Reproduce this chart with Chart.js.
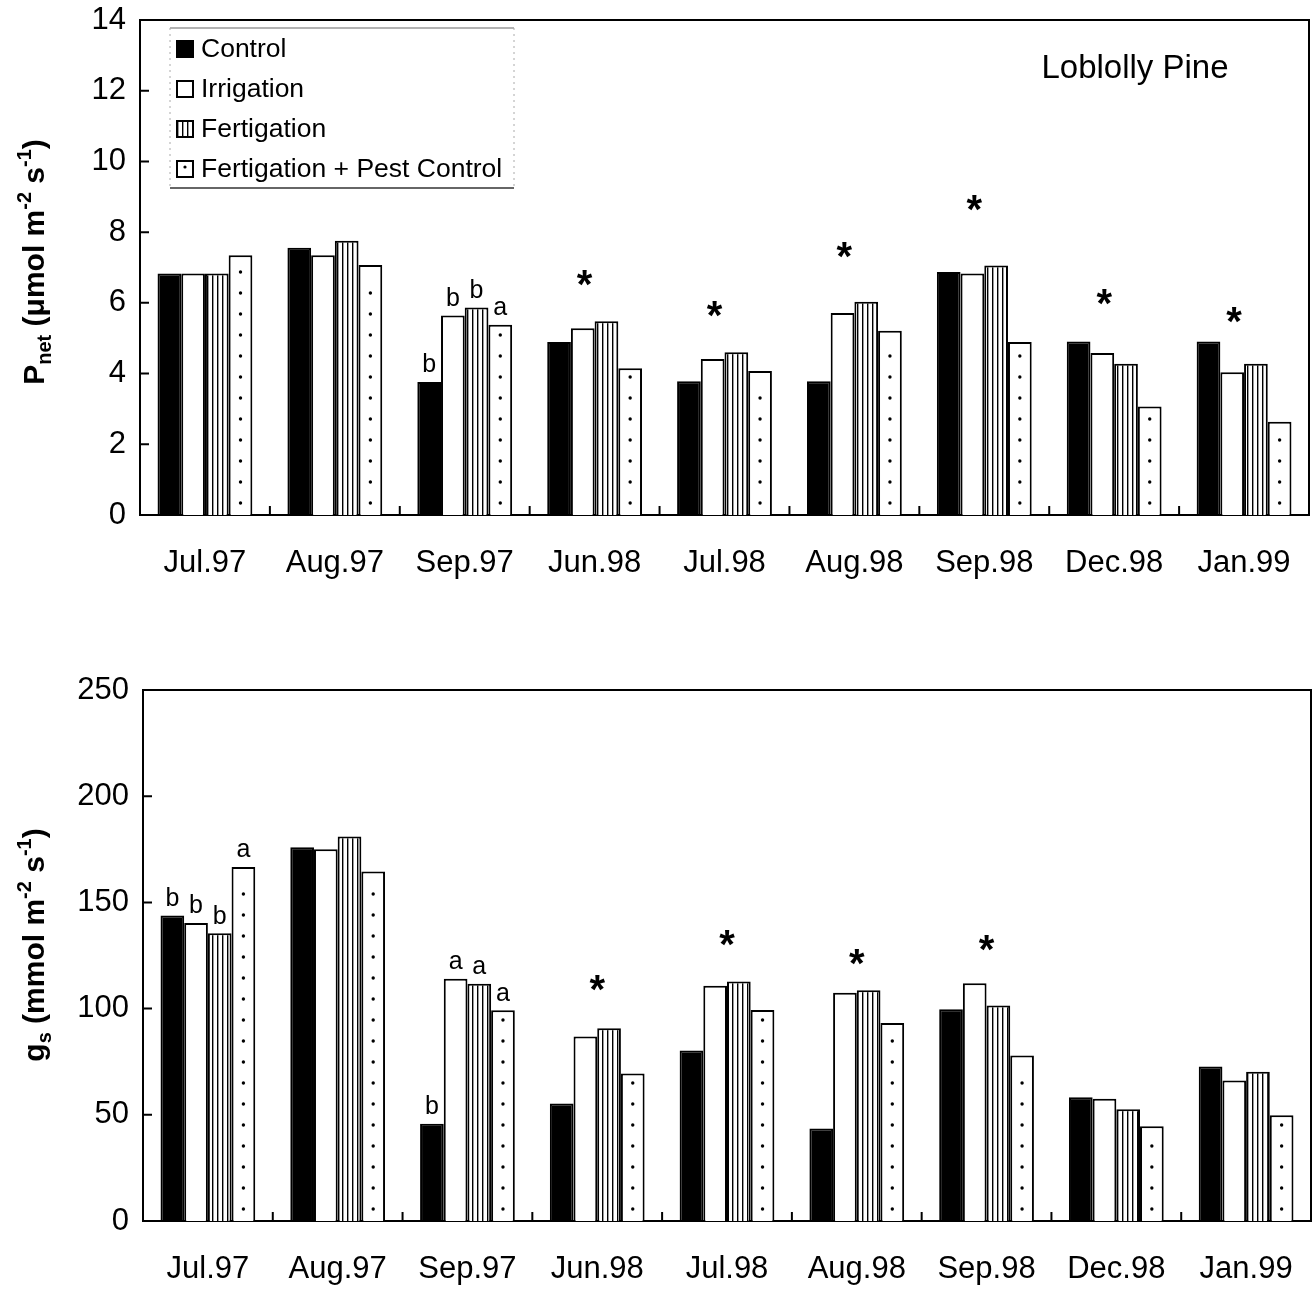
<!DOCTYPE html>
<html>
<head>
<meta charset="utf-8">
<script src="https://cdn.jsdelivr.net/npm/chart.js@4.4.0/dist/chart.umd.min.js"></script>
<style>
  html, body { margin: 0; padding: 0; background: #fff; }
  #wrap { position: relative; width: 1313px; height: 1290px; }
  #pnetChart { position: absolute; left: 0; top: 0; }
  #gsChart { position: absolute; left: 0; top: 620px; }
</style>
</head>
<body>
<div id="wrap">
  <canvas id="pnetChart" width="1313" height="620"></canvas>
  <canvas id="gsChart" width="1313" height="670"></canvas>
</div>
<script>
// ---- data ----
const months = ['Jul.97', 'Aug.97', 'Sep.97', 'Jun.98', 'Jul.98', 'Aug.98', 'Sep.98', 'Dec.98', 'Jan.99'];
const treatments = ['Control', 'Irrigation', 'Fertigation', 'Fertigation + Pest Control'];

// net photosynthesis (umol m-2 s-1)
const pnetControl     = [6.83, 7.56, 3.76, 4.89, 3.78, 3.78, 6.87, 4.91, 4.91];
const pnetIrrigation  = [6.83, 7.35, 5.64, 5.28, 4.41, 5.71, 6.83, 4.58, 4.04];
const pnetFertigation = [6.83, 7.76, 5.87, 5.48, 4.60, 6.03, 7.06, 4.28, 4.28];
const pnetFertPest    = [7.35, 7.07, 5.38, 4.15, 4.07, 5.21, 4.89, 3.07, 2.64];
const pnetStars       = [null, null, null, 6.76, 5.87, 7.56, 8.89, 6.22, 5.71];
const pnetLetters = [
  [null, null, 'b', null, null, null, null, null, null],
  [null, null, 'b', null, null, null, null, null, null],
  [null, null, 'b', null, null, null, null, null, null],
  [null, null, 'a', null, null, null, null, null, null]
];

// stomatal conductance (mmol m-2 s-1)
const gsControl     = [143.8, 176, 45.8, 55.3, 80.3, 43.6, 99.7, 58.3, 72.7];
const gsIrrigation  = [140.3, 175, 114, 86.9, 110.7, 107.5, 111.9, 57.6, 66.2];
const gsFertigation = [135.5, 181, 111.7, 90.8, 112.8, 108.6, 101.5, 52.6, 70.3];
const gsFertPest    = [166.7, 164.6, 99.2, 69.5, 99.3, 93.2, 77.9, 44.6, 49.8];
const gsStars       = [null, null, null, 113, 134, 125.3, 131.8, null, null];
const gsLetters = [
  ['b', null, 'b', null, null, null, null, null, null],
  ['b', null, 'a', null, null, null, null, null, null],
  ['b', null, 'a', null, null, null, null, null, null],
  ['a', null, 'a', null, null, null, null, null, null]
];

// ---- styling ----
const FONT = '"Liberation Sans", Arial, sans-serif';

function makeStripes() {
  const c = document.createElement('canvas');
  c.width = 5; c.height = 8;
  const g = c.getContext('2d');
  g.fillStyle = '#fff';
  g.fillRect(0, 0, 5, 8);
  g.fillStyle = '#000';
  g.fillRect(2, 0, 1.4, 8);
  return g.createPattern(c, 'repeat');
}
const stripes = makeStripes();

function makeDatasets(values) {
  const fills = ['#000', '#fff', stripes, '#fff'];
  return values.map((v, i) => ({
    label: treatments[i], data: v,
    backgroundColor: fills[i], borderColor: '#000', borderWidth: 2,
    categoryPercentage: 0.73, barPercentage: 1.0
  }));
}

function drawRichTitle(ctx, parts, x, cy, size) {
  ctx.save();
  ctx.translate(x, cy);
  ctx.rotate(-Math.PI / 2);
  ctx.textAlign = 'left';
  ctx.textBaseline = 'alphabetic';
  const fontOf = p => 'bold ' + (p.s === 'n' ? size : Math.round(size * 0.68)) + 'px ' + FONT;
  let total = 0;
  parts.forEach(p => { ctx.font = fontOf(p); total += ctx.measureText(p.t).width; });
  let cx = -total / 2;
  ctx.fillStyle = '#000';
  parts.forEach(p => {
    ctx.font = fontOf(p);
    const dy = p.s === 'sub' ? size * 0.22 : p.s === 'sup' ? -size * 0.42 : 0;
    ctx.fillText(p.t, cx, dy);
    cx += ctx.measureText(p.t).width;
  });
  ctx.restore();
}

const decorPlugin = {
  id: 'decor',
  afterDraw(chart, args, o) {
    const { ctx, chartArea: a } = chart;
    const xs = chart.scales.x, ys = chart.scales.y;
    ctx.save();
    // frame top + right
    ctx.strokeStyle = '#000';
    ctx.lineWidth = 2;
    ctx.beginPath();
    ctx.moveTo(a.left, a.top); ctx.lineTo(a.right, a.top); ctx.lineTo(a.right, a.bottom);
    ctx.stroke();
    // inner ticks
    ctx.beginPath();
    ys.ticks.forEach(t => {
      if (t.value <= ys.min || t.value >= ys.max) return;
      const y = ys.getPixelForValue(t.value);
      ctx.moveTo(a.left, y); ctx.lineTo(a.left + 9, y);
    });
    for (let i = 1; i < months.length; i++) {
      const x = (xs.getPixelForValue(i - 1) + xs.getPixelForValue(i)) / 2;
      ctx.moveTo(x, a.bottom); ctx.lineTo(x, a.bottom - 9);
    }
    ctx.stroke();

    // dots in the fertigation + pest control bars
    ctx.fillStyle = '#000';
    chart.getDatasetMeta(3).data.forEach(el => {
      for (let y = el.base - 12; y > el.y + 8; y -= 21) {
        ctx.beginPath(); ctx.arc(el.x, y, 1.7, 0, Math.PI * 2); ctx.fill();
      }
    });

    // letters above bars
    ctx.font = '25px ' + FONT;
    ctx.textAlign = 'center';
    ctx.textBaseline = 'bottom';
    o.letters.forEach((row, d) => {
      const meta = chart.getDatasetMeta(d);
      row.forEach((l, i) => {
        if (!l) return;
        const el = meta.data[i];
        ctx.fillText(l, el.x, el.y - 4);
      });
    });

    // asterisks
    ctx.font = 'bold 40px ' + FONT;
    ctx.textBaseline = 'alphabetic';
    o.stars.forEach((v, i) => {
      if (v == null) return;
      ctx.fillText('*', xs.getPixelForValue(i) + o.starShift, ys.getPixelForValue(v) + 22);
    });

    // y title
    drawRichTitle(ctx, o.title, 44, o.titleY, 30);

    // legend + site label
    if (o.legend) {
      const L = o.legend;
      ctx.strokeStyle = '#666';
      ctx.lineWidth = 1.2;
      ctx.beginPath();
      ctx.moveTo(L.x0, L.y0); ctx.lineTo(L.x1, L.y0);
      ctx.stroke();
      ctx.strokeStyle = '#333';
      ctx.lineWidth = 1.6;
      ctx.beginPath();
      ctx.moveTo(L.x0, L.y1); ctx.lineTo(L.x1, L.y1);
      ctx.stroke();
      ctx.strokeStyle = '#aaa';
      ctx.lineWidth = 1;
      ctx.setLineDash([2, 4]);
      ctx.beginPath();
      ctx.moveTo(L.x0, L.y0); ctx.lineTo(L.x0, L.y1);
      ctx.moveTo(L.x1, L.y0); ctx.lineTo(L.x1, L.y1);
      ctx.stroke();
      ctx.setLineDash([]);

      const fills = ['#000', '#fff', stripes, '#fff'];
      ctx.font = '26.5px ' + FONT;
      ctx.textAlign = 'left';
      ctx.textBaseline = 'middle';
      treatments.forEach((t, i) => {
        const cy = L.y0 + 21 + i * 40;
        const sx = L.x0 + 7, s = 16;
        ctx.fillStyle = fills[i];
        ctx.fillRect(sx, cy - s / 2, s, s);
        ctx.strokeStyle = '#000';
        ctx.lineWidth = 2;
        ctx.strokeRect(sx, cy - s / 2, s, s);
        if (i === 3) {
          ctx.fillStyle = '#000';
          ctx.beginPath(); ctx.arc(sx + s / 2, cy - 2, 1.6, 0, Math.PI * 2); ctx.fill();
        }
        ctx.fillStyle = '#000';
        ctx.fillText(t, sx + s + 8, cy + 1);
      });
      ctx.font = '33px ' + FONT;
      ctx.textAlign = 'center';
      ctx.fillText('Loblolly Pine', 1135, 69);
    }
    ctx.restore();
  }
};

function baseOptions(yMax, yStep, xHeight, yWidth, padTop, padRight) {
  return {
    responsive: false,
    animation: false,
    layout: { padding: { top: padTop, right: padRight, left: 0, bottom: 0 } },
    plugins: { legend: { display: false }, tooltip: { enabled: false } },
    scales: {
      x: {
        grid: { display: false, drawTicks: false },
        border: { display: true, color: '#000', width: 2 },
        ticks: { color: '#000', font: { family: FONT, size: 31 }, padding: 30, maxRotation: 0, autoSkip: false },
        afterFit(s) { s.height = xHeight; s.paddingLeft = 0; s.paddingRight = 0; }
      },
      y: {
        min: 0, max: yMax,
        grid: { display: false, drawTicks: false },
        border: { display: true, color: '#000', width: 2 },
        ticks: { stepSize: yStep, color: '#000', font: { family: FONT, size: 31 }, padding: 14 },
        afterFit(s) { s.width = yWidth; s.paddingTop = 0; s.paddingBottom = 0; }
      }
    }
  };
}

// ---- top chart: Pnet ----
const pnetOpts = baseOptions(14, 2, 105, 140, 20, 4);
pnetOpts.plugins.decor = {
  letters: pnetLetters, stars: pnetStars, starShift: -10, titleY: 262,
  title: [{ t: 'P', s: 'n' }, { t: 'net', s: 'sub' }, { t: ' (μmol m', s: 'n' }, { t: '-2', s: 'sup' },
          { t: ' s', s: 'n' }, { t: '-1', s: 'sup' }, { t: ')', s: 'n' }],
  legend: { x0: 170, x1: 514, y0: 28, y1: 188 }
};
new Chart(document.getElementById('pnetChart'), {
  type: 'bar',
  data: { labels: months, datasets: makeDatasets([pnetControl, pnetIrrigation, pnetFertigation, pnetFertPest]) },
  options: pnetOpts,
  plugins: [decorPlugin]
});

// ---- bottom chart: gs ----
const gsOpts = baseOptions(250, 50, 69, 143, 70, 2);
gsOpts.plugins.decor = {
  letters: gsLetters, stars: gsStars, starShift: 0, titleY: 325,
  title: [{ t: 'g', s: 'n' }, { t: 's', s: 'sub' }, { t: ' (mmol m', s: 'n' }, { t: '-2', s: 'sup' },
          { t: ' s', s: 'n' }, { t: '-1', s: 'sup' }, { t: ')', s: 'n' }],
  legend: null
};
new Chart(document.getElementById('gsChart'), {
  type: 'bar',
  data: { labels: months, datasets: makeDatasets([gsControl, gsIrrigation, gsFertigation, gsFertPest]) },
  options: gsOpts,
  plugins: [decorPlugin]
});
</script>
</body>
</html>
